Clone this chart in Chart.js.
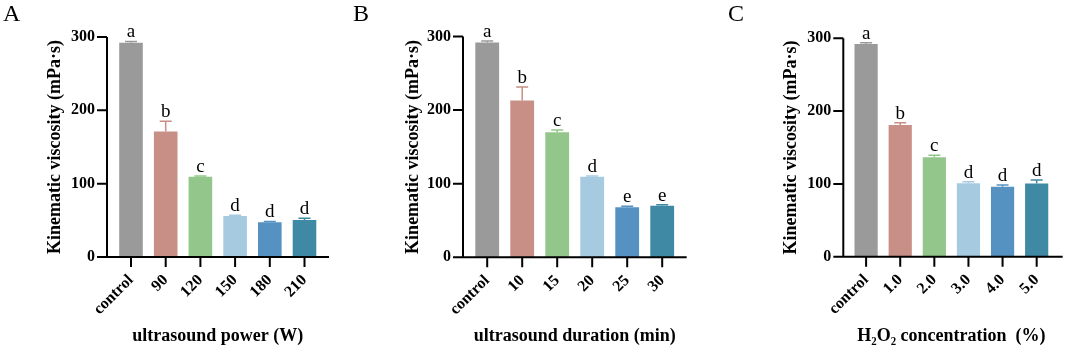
<!DOCTYPE html>
<html>
<head>
<meta charset="utf-8">
<script src="https://cdn.jsdelivr.net/npm/chart.js@4.4.1/dist/chart.umd.min.js"></script>
<style>
  html, body { margin: 0; padding: 0; background: #fff; }
  #wrap { position: relative; width: 1065px; height: 349px; overflow: hidden; }
  .panel { position: absolute; top: 0; width: 355px; height: 349px; }
</style>
</head>
<body>
<div id="wrap">
  <div class="panel" style="left:0px"><canvas id="chartA" width="355" height="349"></canvas></div>
  <div class="panel" style="left:350px"><canvas id="chartB" width="355" height="349"></canvas></div>
  <div class="panel" style="left:710px"><canvas id="chartC" width="355" height="349"></canvas></div>
</div>
<script>
// --- data ---
const yTicks = [0, 100, 200, 300];

const powerLabels = ['control', '90', '120', '150', '180', '210'];
const powerMeans = [292, 171, 109.5, 56, 47.5, 50.5];
const powerErr = [2, 14, 1, 1, 1, 2.5];
const powerLetters = ['a', 'b', 'c', 'd', 'd', 'd'];

const durationLabels = ['control', '10', '15', '20', '25', '30'];
const durationMeans = [292, 213, 170, 109.5, 68, 70];
const durationErr = [2, 18.5, 3, 1, 1.5, 1.5];
const durationLetters = ['a', 'b', 'c', 'd', 'e', 'e'];

const h2o2Labels = ['control', '1.0', '2.0', '3.0', '4.0', '5.0'];
const h2o2Means = [292, 181, 136.5, 101, 96, 100.5];
const h2o2Err = [2, 3, 3, 2, 2.5, 5];
const h2o2Letters = ['a', 'b', 'c', 'd', 'd', 'd'];

const barColors = ['#999a99', '#c78f86', '#93c68b', '#a6cae0', '#5692c1', '#3f89a4'];
const serif = '"Liberation Serif", "Times New Roman", "DejaVu Serif", serif';

Chart.defaults.color = '#000';

function makePanel(id, g, labels, means, errs, letters, panelLetter, xTitle) {
    const W = 355, H = 349;

    // axes, error bars, significance letters and panel letter
    const deco = {
        id: 'deco' + id,
        afterDatasetsDraw(chart) {
            const ctx = chart.ctx;
            const ys = chart.scales.y;
            const meta = chart.getDatasetMeta(0);
            ctx.save();
            meta.data.forEach((bar, i) => {
                const top = ys.getPixelForValue(means[i] + errs[i]);
                ctx.strokeStyle = barColors[i];
                ctx.lineWidth = 1.5;
                ctx.beginPath();
                ctx.moveTo(bar.x, bar.y);
                ctx.lineTo(bar.x, top);
                ctx.moveTo(bar.x - 6, top);
                ctx.lineTo(bar.x + 6, top);
                ctx.stroke();
                ctx.fillStyle = '#000';
                ctx.font = '19px ' + serif;
                ctx.textAlign = 'center';
                ctx.textBaseline = 'alphabetic';
                ctx.fillText(letters[i], bar.x, top - 4);
            });

            ctx.strokeStyle = '#000';
            ctx.lineWidth = 2;
            ctx.beginPath();
            ctx.moveTo(g.axisX, ys.getPixelForValue(300));
            ctx.lineTo(g.axisX, g.bottom + 1);
            ctx.moveTo(g.axisX - 1, g.bottom);
            ctx.lineTo(g.axisR, g.bottom);
            yTicks.forEach(v => {
                const py = ys.getPixelForValue(v);
                ctx.moveTo(g.axisX - 10, py);
                ctx.lineTo(g.axisX, py);
            });
            meta.data.forEach(bar => {
                ctx.moveTo(bar.x, g.bottom);
                ctx.lineTo(bar.x, g.bottom + 10);
            });
            ctx.stroke();

            ctx.fillStyle = '#000';
            ctx.font = '24px ' + serif;
            ctx.textAlign = 'left';
            ctx.textBaseline = 'alphabetic';
            ctx.fillText(panelLetter, g.letterX, 21);
            ctx.restore();
        }
    };

    new Chart(document.getElementById(id), {
        type: 'bar',
        data: {
            labels: labels,
            datasets: [{
                data: means,
                backgroundColor: barColors,
                borderWidth: 0,
                barPercentage: 0.68,
                categoryPercentage: 1
            }]
        },
        options: {
            responsive: false,
            animation: false,
            devicePixelRatio: 1,
            layout: { padding: { left: 0, right: W - g.catR, top: g.top, bottom: 0 } },
            plugins: { legend: { display: false }, tooltip: { enabled: false } },
            scales: {
                x: {
                    offset: true,
                    grid: { display: false, drawTicks: false },
                    border: { display: false },
                    ticks: {
                        autoSkip: false, minRotation: 45, maxRotation: 45, padding: 14,
                        color: '#000', font: { family: serif, size: 16, weight: 'bold' }
                    },
                    title: {
                        display: true, text: xTitle, color: '#000',
                        font: { family: serif, size: 18, weight: 'bold' },
                        padding: { top: 0, bottom: 2 }
                    },
                    afterFit: s => { s.height = H - g.bottom; }
                },
                y: {
                    min: 0, max: 300,
                    grid: { display: false, drawTicks: false },
                    border: { display: false },
                    afterBuildTicks: s => { s.ticks = yTicks.map(v => ({ value: v })); },
                    ticks: {
                        padding: g.catL - g.axisX + 12,
                        color: '#000', font: { family: serif, size: 16, weight: 'bold' }
                    },
                    title: {
                        display: true, text: 'Kinematic viscosity (mPa·s)', color: '#000',
                        font: { family: serif, size: 18, weight: 'bold' },
                        padding: { top: g.titleX - 10.8, bottom: 0 }
                    },
                    afterFit: s => { s.width = g.catL; }
                }
            }
        },
        plugins: [deco]
    });
}

makePanel('chartA',
    { axisX: 107, axisR: 329, top: 37, bottom: 257, catL: 113.65, catR: 321.85, titleX: 55, letterX: 3 },
    powerLabels, powerMeans, powerErr, powerLetters, 'A', 'ultrasound power (W)');

makePanel('chartB',
    { axisX: 113, axisR: 336.7, top: 36.5, bottom: 257.3, catL: 119.7, catR: 329.7, titleX: 63.4, letterX: 3 },
    durationLabels, durationMeans, durationErr, durationLetters, 'B', 'ultrasound duration (min)');

makePanel('chartC',
    { axisX: 133.3, axisR: 352.7, top: 38.3, bottom: 256.7, catL: 139.05, catR: 346.05, titleX: 81.6, letterX: 18 },
    h2o2Labels, h2o2Means, h2o2Err, h2o2Letters, 'C', 'H\u2082O\u2082 concentration  (%)');
</script>
</body>
</html>
